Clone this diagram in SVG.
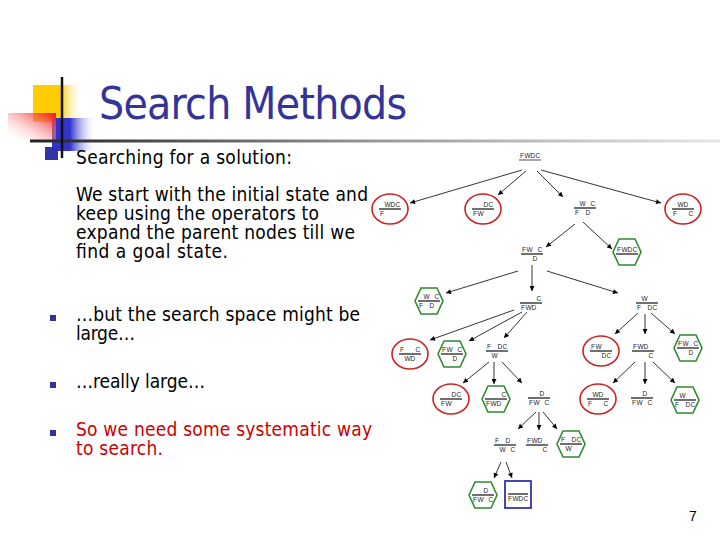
<svg xmlns="http://www.w3.org/2000/svg" width="720" height="540" viewBox="0 0 720 540">
<defs>
<linearGradient id="gy" x1="0" y1="0" x2="1" y2="0"><stop offset="0" stop-color="#FFCC00"/><stop offset="0.55" stop-color="#FFCC00"/><stop offset="1" stop-color="#FFFFFF" stop-opacity="0"/></linearGradient>
<linearGradient id="gr" x1="0" y1="1" x2="1" y2="0"><stop offset="0" stop-color="#FFFFFF" stop-opacity="0"/><stop offset="1" stop-color="#EE1111"/></linearGradient>
<linearGradient id="gb" x1="0" y1="0" x2="1" y2="0"><stop offset="0" stop-color="#3333CC"/><stop offset="0.4" stop-color="#3333CC"/><stop offset="1" stop-color="#FFFFFF" stop-opacity="0"/></linearGradient>
<linearGradient id="gl" x1="0" y1="0" x2="1" y2="0"><stop offset="0" stop-color="#222222"/><stop offset="0.5" stop-color="#999999"/><stop offset="1" stop-color="#E6E6E6"/></linearGradient>
<marker id="ah" viewBox="0 0 10 10" refX="10" refY="5" markerWidth="6" markerHeight="5" orient="auto" markerUnits="userSpaceOnUse"><path d="M0,0 L10,5 L0,10 z" fill="#000"/></marker>
<style>
.t{font-family:"DejaVu Sans Condensed","Liberation Sans",sans-serif;font-size:19px;fill:#000}
.title{font-family:"DejaVu Sans Condensed","Liberation Sans",sans-serif;font-size:44px;fill:#333399}
.red{fill:#CC0000}
.bul{fill:#333399}
.lbl{font-family:"Liberation Sans",Arial,sans-serif;font-size:6.5px;fill:#222}
.bar{stroke:#111;stroke-width:1.2}
.ill{fill:none;stroke:#CC2222;stroke-width:1.6}
.rep{fill:none;stroke:#2E8B2E;stroke-width:1.6}
.goal{fill:none;stroke:#3333AA;stroke-width:1.8}
.arr{stroke:#000;stroke-width:0.8;fill:none;marker-end:url(#ah)}
</style>
</defs>
<rect width="720" height="540" fill="#fff"/>
<g id="decor">
<rect x="33" y="85" width="50" height="37" fill="url(#gy)"/>
<rect x="52" y="118" width="45" height="33" fill="url(#gb)"/>
<rect x="8" y="113" width="48" height="28" fill="url(#gr)"/>
<rect x="45" y="147" width="13" height="13" fill="#3333AA"/>
<rect x="30" y="139.5" width="690" height="3" fill="url(#gl)"/>
<line x1="62" y1="77" x2="62" y2="158" stroke="#111" stroke-width="2.5"/>
</g>
<text class="title" x="99" y="119" textLength="308">Search Methods</text>
<g id="body">
<text class="t" x="76" y="164" textLength="216">Searching for a solution:</text>
<text class="t" x="76" y="201" textLength="292">We start with the initial state and</text>
<text class="t" x="76" y="220" textLength="243">keep using the operators to</text>
<text class="t" x="76" y="239" textLength="279">expand the parent nodes till we</text>
<text class="t" x="76" y="258" textLength="152">find a goal state.</text>
<rect class="bul" x="50" y="315" width="6" height="6"/>
<text class="t" x="76" y="321" textLength="284">…but the search space might be</text>
<text class="t" x="76" y="340" textLength="59">large…</text>
<rect class="bul" x="50" y="382" width="6" height="6"/>
<text class="t" x="76" y="388" textLength="129">…really large…</text>
<rect class="bul" x="50" y="430" width="6" height="6"/>
<text class="t red" x="76" y="436" textLength="296">So we need some systematic way</text>
<text class="t red" x="76" y="455" textLength="87">to search.</text>
<text x="689" y="521" font-family="Liberation Sans,Arial,sans-serif" font-size="14" fill="#000">7</text>
</g>
<g id="connectors">
<line class="arr" x1="522" y1="170" x2="410" y2="203"/>
<line class="arr" x1="526" y1="171" x2="498" y2="195"/>
<line class="arr" x1="537" y1="171" x2="563" y2="197"/>
<line class="arr" x1="541" y1="170" x2="661" y2="203"/>
<line class="arr" x1="575" y1="224" x2="546" y2="247"/>
<line class="arr" x1="583" y1="222" x2="612" y2="249"/>
<line class="arr" x1="518" y1="271" x2="446" y2="293"/>
<line class="arr" x1="532" y1="265" x2="532" y2="291"/>
<line class="arr" x1="547" y1="271" x2="618" y2="293"/>
<line class="arr" x1="514" y1="310" x2="430" y2="340"/>
<line class="arr" x1="522" y1="312" x2="469" y2="341"/>
<line class="arr" x1="527" y1="312" x2="504" y2="338"/>
<line class="arr" x1="638" y1="313" x2="615" y2="334"/>
<line class="arr" x1="645" y1="314" x2="645" y2="334"/>
<line class="arr" x1="651" y1="313" x2="675" y2="334"/>
<line class="arr" x1="489" y1="362" x2="463" y2="383"/>
<line class="arr" x1="494" y1="362" x2="494" y2="384"/>
<line class="arr" x1="502" y1="362" x2="522" y2="383"/>
<line class="arr" x1="635" y1="362" x2="613" y2="383"/>
<line class="arr" x1="645" y1="362" x2="645" y2="384"/>
<line class="arr" x1="653" y1="362" x2="675" y2="383"/>
<line class="arr" x1="536" y1="412" x2="518" y2="429"/>
<line class="arr" x1="539" y1="412" x2="539" y2="430"/>
<line class="arr" x1="543" y1="412" x2="557" y2="429"/>
<line class="arr" x1="501" y1="462" x2="494" y2="478"/>
<line class="arr" x1="506" y1="462" x2="512" y2="478"/>
</g>
<g id="root"><text class="lbl" x="520 524.5 530.5 535.5" y="158">FWDC</text><line x1="519" y1="160" x2="541" y2="160" stroke="#888" stroke-width="1.5"/></g>
<g id="c1"><ellipse class="ill" cx="390" cy="209" rx="18" ry="15"/><text class="lbl" x="384.5 390.5 395.5" y="207">WDC</text><line class="bar" x1="379" y1="209" x2="401" y2="209"/><text class="lbl" x="380" y="216">F</text></g>
<g id="c2"><ellipse class="ill" cx="483" cy="209" rx="18" ry="15"/><text class="lbl" x="483.5 488.5" y="207">DC</text><line class="bar" x1="472" y1="209" x2="494" y2="209"/><text class="lbl" x="473 477.5" y="216">FW</text></g>
<g id="n3"><text class="lbl" x="579.5 590.5" y="206">WC</text><line class="bar" x1="574" y1="208" x2="596" y2="208"/><text class="lbl" x="575 585.5" y="215">FD</text></g>
<g id="c4"><ellipse class="ill" cx="683" cy="209" rx="18" ry="15"/><text class="lbl" x="677.5 683.5" y="207">WD</text><line class="bar" x1="672" y1="209" x2="694" y2="209"/><text class="lbl" x="673 688.5" y="216">FC</text></g>
<g id="n5"><text class="lbl" x="522 526.5 537.5" y="252">FWC</text><line class="bar" x1="521" y1="254" x2="543" y2="254"/><text class="lbl" x="532.5" y="261">D</text></g>
<g id="h6"><polygon class="rep" points="613,252 619,239 635,239 641,252 635,265 619,265"/><text class="lbl" x="617 621.5 627.5 632.5" y="252">FWDC</text><line class="bar" x1="616" y1="254" x2="638" y2="254"/></g>
<g id="h7"><polygon class="rep" points="415,301 421,288 437,288 443,301 437,314 421,314"/><text class="lbl" x="423.5 434.5" y="299">WC</text><line class="bar" x1="418" y1="301" x2="440" y2="301"/><text class="lbl" x="419 429.5" y="308">FD</text></g>
<g id="n8"><text class="lbl" x="536.5" y="301">C</text><line class="bar" x1="520" y1="303" x2="542" y2="303"/><text class="lbl" x="521 525.5 531.5" y="310">FWD</text></g>
<g id="n9"><text class="lbl" x="641.5" y="301">W</text><line class="bar" x1="636" y1="303" x2="658" y2="303"/><text class="lbl" x="637 647.5 652.5" y="310">FDC</text></g>
<g id="c10"><ellipse class="ill" cx="410" cy="354" rx="18" ry="15"/><text class="lbl" x="400 415.5" y="352">FC</text><line class="bar" x1="399" y1="354" x2="421" y2="354"/><text class="lbl" x="404.5 410.5" y="361">WD</text></g>
<g id="h11"><polygon class="rep" points="438,354 444,341 460,341 466,354 460,367 444,367"/><text class="lbl" x="442 446.5 457.5" y="352">FWC</text><line class="bar" x1="441" y1="354" x2="463" y2="354"/><text class="lbl" x="452.5" y="361">D</text></g>
<g id="n12"><text class="lbl" x="487 497.5 502.5" y="349">FDC</text><line class="bar" x1="486" y1="351" x2="508" y2="351"/><text class="lbl" x="491.5" y="358">W</text></g>
<g id="c13"><ellipse class="ill" cx="601" cy="351" rx="18" ry="15"/><text class="lbl" x="591 595.5" y="349">FW</text><line class="bar" x1="590" y1="351" x2="612" y2="351"/><text class="lbl" x="601.5 606.5" y="358">DC</text></g>
<g id="n14"><text class="lbl" x="633 637.5 643.5" y="349">FWD</text><line class="bar" x1="632" y1="351" x2="654" y2="351"/><text class="lbl" x="648.5" y="358">C</text></g>
<g id="h15"><polygon class="rep" points="674,348 680,335 696,335 702,348 696,361 680,361"/><text class="lbl" x="678 682.5 693.5" y="346">FWC</text><line class="bar" x1="677" y1="348" x2="699" y2="348"/><text class="lbl" x="688.5" y="355">D</text></g>
<g id="c16"><ellipse class="ill" cx="451" cy="399" rx="18" ry="15"/><text class="lbl" x="451.5 456.5" y="397">DC</text><line class="bar" x1="440" y1="399" x2="462" y2="399"/><text class="lbl" x="441 445.5" y="406">FW</text></g>
<g id="h17"><polygon class="rep" points="482,399 488,386 504,386 510,399 504,412 488,412"/><text class="lbl" x="501.5" y="397">C</text><line class="bar" x1="485" y1="399" x2="507" y2="399"/><text class="lbl" x="486 490.5 496.5" y="406">FWD</text></g>
<g id="n18"><text class="lbl" x="539.5" y="396">D</text><line class="bar" x1="528" y1="398" x2="550" y2="398"/><text class="lbl" x="529 533.5 544.5" y="405">FWC</text></g>
<g id="c19"><ellipse class="ill" cx="598" cy="399" rx="18" ry="15"/><text class="lbl" x="592.5 598.5" y="397">WD</text><line class="bar" x1="587" y1="399" x2="609" y2="399"/><text class="lbl" x="588 603.5" y="406">FC</text></g>
<g id="n20"><text class="lbl" x="642.5" y="396">D</text><line class="bar" x1="631" y1="398" x2="653" y2="398"/><text class="lbl" x="632 636.5 647.5" y="405">FWC</text></g>
<g id="h21"><polygon class="rep" points="671,400 677,387 693,387 699,400 693,413 677,413"/><text class="lbl" x="679.5" y="398">W</text><line class="bar" x1="674" y1="400" x2="696" y2="400"/><text class="lbl" x="675 685.5 690.5" y="407">FDC</text></g>
<g id="n22"><text class="lbl" x="495 505.5" y="443">FD</text><line class="bar" x1="494" y1="445" x2="516" y2="445"/><text class="lbl" x="499.5 510.5" y="452">WC</text></g>
<g id="n23"><text class="lbl" x="527 531.5 537.5" y="443">FWD</text><line class="bar" x1="526" y1="445" x2="548" y2="445"/><text class="lbl" x="542.5" y="452">C</text></g>
<g id="h24"><polygon class="rep" points="557,444 563,431 579,431 585,444 579,457 563,457"/><text class="lbl" x="561 571.5 576.5" y="442">FDC</text><line class="bar" x1="560" y1="444" x2="582" y2="444"/><text class="lbl" x="565.5" y="451">W</text></g>
<g id="h25"><polygon class="rep" points="469,495 475,482 491,482 497,495 491,508 475,508"/><text class="lbl" x="483.5" y="493">D</text><line class="bar" x1="472" y1="495" x2="494" y2="495"/><text class="lbl" x="473 477.5 488.5" y="502">FWC</text></g>
<g id="b26"><rect class="goal" x="505" y="481" width="26" height="27"/><line class="bar" x1="508" y1="494" x2="528" y2="494"/><text class="lbl" x="508 512.5 518.5 523.5" y="501">FWDC</text></g>
</svg>
